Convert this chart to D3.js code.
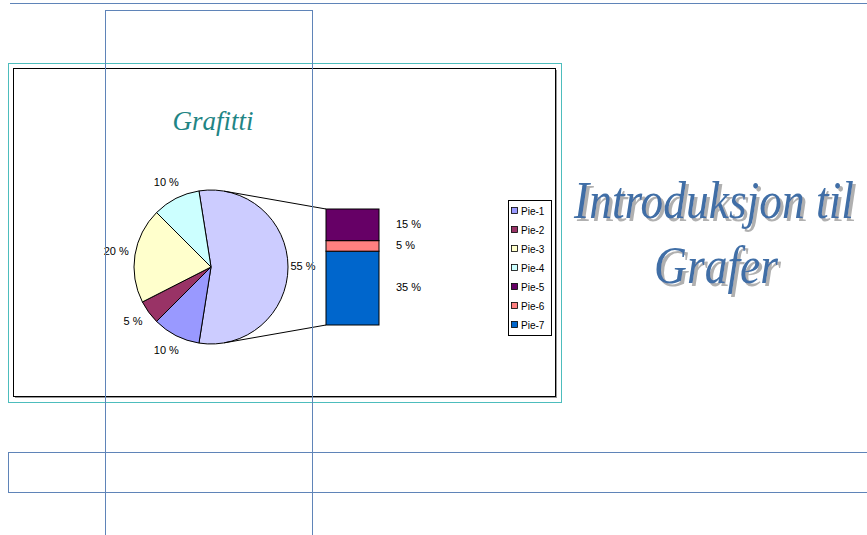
<!DOCTYPE html>
<html>
<head>
<meta charset="utf-8">
<script src="https://cdn.jsdelivr.net/npm/d3@7"></script>
<style>
  body { margin: 0; background: #fff; }
  svg { display: block; }
</style>
</head>
<body>
<div id="chart"></div>
<script>
// pie slices (the "other" slice is broken out into the bar)
const pieNames = ["Annet", "Pie-1", "Pie-2", "Pie-3", "Pie-4"];
const pieValues = [55, 10, 5, 20, 10];
const pieColors = ["#ccccff", "#9999ff", "#993366", "#ffffcc", "#ccffff"];

// bar of pie, bottom to top
const barNames = ["Pie-7", "Pie-6", "Pie-5"];
const barValues = [35, 5, 15];
const barColors = ["#0066cc", "#ff8080", "#660066"];

const legendNames = ["Pie-1", "Pie-2", "Pie-3", "Pie-4", "Pie-5", "Pie-6", "Pie-7"];
const legendColors = ["#9999ff", "#993366", "#ffffcc", "#ccffff", "#660066", "#ff8080", "#0066cc"];

const width = 867;
const height = 535;
const lineBlue = "#5f84b8";

const svg = d3.select("#chart")
    .append("svg")
    .attr("width", width)
    .attr("height", height);

const shadow = svg.append("defs").append("filter")
    .attr("id", "shadow")
    .attr("x", "-5%").attr("y", "-20%").attr("width", "115%").attr("height", "150%");
shadow.append("feDropShadow")
    .attr("dx", 3).attr("dy", 3).attr("stdDeviation", 0.6)
    .attr("flood-color", "#b0b0b0").attr("flood-opacity", 1);

// page guide lines
svg.append("line")
    .attr("x1", 10).attr("x2", width).attr("y1", 3.5).attr("y2", 3.5)
    .attr("stroke", lineBlue).attr("stroke-width", 1);

svg.append("rect")
    .attr("x", 8.5).attr("y", 452.5).attr("width", 870).attr("height", 40)
    .attr("fill", "none").attr("stroke", lineBlue);

// chart frame
svg.append("rect")
    .attr("x", 8.5).attr("y", 63.5).attr("width", 553).attr("height", 339)
    .attr("fill", "#fff").attr("stroke", "#4dbdbd");

svg.append("rect")
    .attr("x", 15).attr("y", 70).attr("width", 542).attr("height", 328)
    .attr("fill", "#999");

svg.append("rect")
    .attr("x", 13.5).attr("y", 68.5).attr("width", 542).attr("height", 328)
    .attr("fill", "#fff").attr("stroke", "#000");

svg.append("text")
    .attr("x", 213).attr("y", 130)
    .attr("text-anchor", "middle")
    .attr("font-family", "Liberation Serif, serif")
    .attr("font-style", "italic")
    .attr("font-size", 27)
    .attr("fill", "#1f8585")
    .text("Grafitti");

// pie
const cx = 211, cy = 267, r = 77;
const pie = d3.pie().sort(null).value(d => d)
    .startAngle(-9 * Math.PI / 180)
    .endAngle((360 - 9) * Math.PI / 180);
const arcs = pie(pieValues);
const arc = d3.arc().innerRadius(0).outerRadius(r);
const labelArc = d3.arc().innerRadius(r + 17).outerRadius(r + 17);

const g = svg.append("g").attr("transform", `translate(${cx},${cy})`);

g.selectAll("path")
    .data(arcs)
    .enter()
    .append("path")
    .attr("d", arc)
    .attr("fill", (d, i) => pieColors[i])
    .attr("stroke", "#000")
    .attr("stroke-width", 1);

g.selectAll("text")
    .data(arcs)
    .enter()
    .append("text")
    .attr("x", d => labelArc.centroid(d)[0] - 2)
    .attr("y", d => labelArc.centroid(d)[1] + 3)
    .attr("text-anchor", "middle")
    .attr("font-family", "Liberation Sans, Arial, sans-serif")
    .attr("font-size", 11)
    .attr("fill", "#000")
    .text(d => d.value + " %");

// bar of pie
const barX = 326, barW = 53;
const y = d3.scaleLinear()
    .domain([0, d3.sum(barValues)])
    .range([325, 209]);
const stacked = barValues.map((v, i) => ({
    name: barNames[i], value: v, y0: d3.sum(barValues.slice(0, i)), y1: d3.sum(barValues.slice(0, i + 1))
}));

// connector lines, tangent to the pie
const tangent = (px, py, sign) => {
    const dx = px - cx, dy = py - cy;
    const d = Math.hypot(dx, dy);
    const a = Math.atan2(dy, dx) + sign * Math.acos(r / d);
    return [cx + r * Math.cos(a), cy + r * Math.sin(a)];
};
const tUp = tangent(barX, y(d3.sum(barValues)), -1);
const tDown = tangent(barX, y(0), 1);
svg.append("line")
    .attr("x1", tUp[0]).attr("y1", tUp[1]).attr("x2", barX).attr("y2", y(d3.sum(barValues)))
    .attr("stroke", "#000");
svg.append("line")
    .attr("x1", tDown[0]).attr("y1", tDown[1]).attr("x2", barX).attr("y2", y(0))
    .attr("stroke", "#000");

svg.append("g")
    .selectAll("rect")
    .data(stacked)
    .enter()
    .append("rect")
    .attr("x", barX)
    .attr("y", d => y(d.y1))
    .attr("width", barW)
    .attr("height", d => y(d.y0) - y(d.y1))
    .attr("fill", (d, i) => barColors[i])
    .attr("stroke", "#000");

svg.append("g")
    .selectAll("text")
    .data(stacked)
    .enter()
    .append("text")
    .attr("x", 396)
    .attr("y", d => (y(d.y0) + y(d.y1)) / 2 + 3)
    .attr("font-family", "Liberation Sans, Arial, sans-serif")
    .attr("font-size", 11)
    .text(d => d.value + " %");

// legend
const legend = svg.append("g");
legend.append("rect")
    .attr("x", 508.5).attr("y", 200.5).attr("width", 43).attr("height", 135)
    .attr("fill", "#fff").attr("stroke", "#000");
const ly = d3.scalePoint().domain(legendNames).range([211, 325]);
legend.selectAll("rect.sw")
    .data(legendNames)
    .enter()
    .append("rect")
    .attr("class", "sw")
    .attr("x", 511.5)
    .attr("y", d => ly(d) - 3.5)
    .attr("width", 6).attr("height", 6)
    .attr("fill", (d, i) => legendColors[i])
    .attr("stroke", "#000").attr("stroke-width", 0.8);
legend.selectAll("text")
    .data(legendNames)
    .enter()
    .append("text")
    .attr("x", 521)
    .attr("y", d => ly(d) + 3.5)
    .attr("font-family", "Liberation Sans, Arial, sans-serif")
    .attr("font-size", 10)
    .text(d => d);

// vertical guide rectangle drawn over the chart
svg.append("rect")
    .attr("x", 105.5).attr("y", 10.5).attr("width", 207).attr("height", 540)
    .attr("fill", "none").attr("stroke", lineBlue);

// heading: tall, narrow italic - squeeze horizontally to the measured width
const heading = [
    { text: "Introduksjon til", x: 714, y: 218, len: 280 },
    { text: "Grafer", x: 716, y: 283, len: 124 }
];
const hg = svg.append("g").attr("filter", "url(#shadow)");
heading.forEach(h => {
    const t = hg.append("g")
        .append("text")
        .attr("text-anchor", "middle")
        .attr("font-family", "Liberation Serif, serif")
        .attr("font-style", "italic")
        .attr("font-size", 52)
        .attr("fill", "#3f6ea6")
        .text(h.text);
    const k = h.len / t.node().getComputedTextLength();
    t.attr("transform", `translate(${h.x},${h.y}) scale(${k},1)`);
});
</script>
</body>
</html>
